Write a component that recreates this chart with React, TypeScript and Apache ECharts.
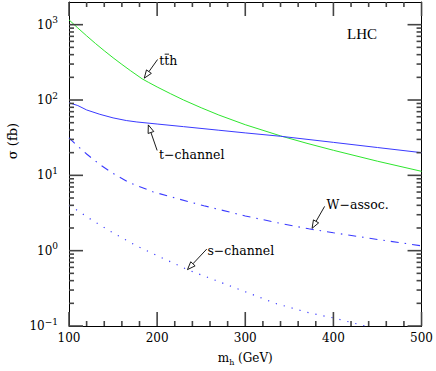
import React, { useEffect, useRef } from 'react';
import * as echarts from 'echarts';

// ---- data ----
const tthMass = [100, 110, 120, 130, 140, 150, 160, 170, 183, 190, 200, 215, 230, 250, 270, 300, 340, 370, 400, 450, 500];
const tthSigma = [1160, 904, 711, 563, 451, 364, 297, 244, 191, 172, 149, 121.6, 100, 78.9, 63.2, 47, 33.4, 26.6, 21.5, 15.4, 11.3];

const tChannelMass = [100, 110, 120, 135, 150, 165, 177, 200, 230, 270, 300, 340, 400, 450, 500];
const tChannelSigma = [92, 84.4, 73.8, 64.6, 57.9, 53.4, 51.1, 48, 44.3, 39.7, 36.6, 33, 27.4, 23.4, 20];

const wAssocMass = [100, 110, 120, 135, 150, 168, 195, 225, 253, 300, 340, 372, 400, 450, 500];
const wAssocSigma = [31.5, 24.3, 19.2, 13.9, 10.6, 8.06, 6.05, 4.83, 3.95, 2.89, 2.3, 1.95, 1.73, 1.41, 1.16];

const sChannelMass = [100, 110, 120, 135, 150, 176, 200, 236, 266, 300, 334, 370, 400, 436];
const sChannelSigma = [4.0, 3.4, 2.82, 2.2, 1.72, 1.17, 0.86, 0.55, 0.405, 0.285, 0.2, 0.152, 0.128, 0.1];

const xMin = 100;
const xMax = 500;
const xMajorStep = 100;
const xMinorStep = 20;
const yMin = 0.1;
const yMax = 2000;

// annotation labels with arrows (data coordinates); bar = [from, to] char range with an overline
const annotations = [
  { label: 'tth', bar: [1, 2], textAt: [202.5, 338], tail: [200.5, 345], tip: [185.4, 195] },
  { label: 't\u2212channel', bar: null, textAt: [202, 18.9], tail: [200, 21.4], tip: [190, 46.7] },
  { label: 'W\u2212assoc.', bar: null, textAt: [392.3, 4.16], tail: [390, 3.87], tip: [375.8, 1.98] },
  { label: 's\u2212channel', bar: null, textAt: [257, 1.0], tail: [256.3, 1.05], tip: [234.4, 0.56] },
];

const FONT = 'DejaVu Serif';
const ANN_SIZE = 12.5;

function zip(xs: number[], ys: number[]) {
  return xs.map((x, i) => [x, ys[i]]);
}

type Tick = { axis: 'x' | 'y'; v: number; major: boolean };

function buildTicks(): Tick[] {
  const out: Tick[] = [];
  for (let v = xMin; v <= xMax + 1e-9; v += xMinorStep) {
    out.push({ axis: 'x', v, major: Math.abs(v / xMajorStep - Math.round(v / xMajorStep)) < 1e-9 });
  }
  for (let e = Math.floor(Math.log10(yMin)); e <= Math.ceil(Math.log10(yMax)); e++) {
    for (let k = 1; k <= 9; k++) {
      const v = k * Math.pow(10, e);
      if (v >= yMin * 0.999 && v < yMax) out.push({ axis: 'y', v, major: k === 1 });
    }
  }
  return out;
}

function measure(text: string, size: number, family: string) {
  const c = document.createElement('canvas').getContext('2d');
  if (!c) return text.length * size * 0.5;
  c.font = `${size}px "${family}"`;
  return c.measureText(text).width;
}

export default function App() {
  const ref = useRef<HTMLDivElement>(null);
  useEffect(() => {
    if (!ref.current) return;
    const chart = echarts.init(ref.current, undefined, { renderer: 'svg' });
    const ticks = buildTicks();

    const yLabel = (v: number) => {
      const l = Math.log10(v);
      const e = Math.round(l);
      if (Math.abs(l - e) > 1e-6) return '';
      return `{b|10}{s|${e < 0 ? '\u2212' + -e : e}}`;
    };

    const mkAxisLine = () => ({ show: true, lineStyle: { color: '#000', width: 1 } });

    const option: any = {
      animation: false,
      backgroundColor: '#fff',
      title: {
        text: 'LHC',
        left: 347,
        top: 26,
        padding: 0,
        textStyle: { fontFamily: 'Liberation Serif', fontSize: 15, fontWeight: 'normal', color: '#000' },
      },
      graphic: [
        {
          type: 'text',
          x: 12,
          y: 141,
          rotation: Math.PI / 2,
          style: {
            text: '\u03c3 (fb)',
            fill: '#000',
            fontFamily: FONT,
            fontSize: 13,
            align: 'center',
            verticalAlign: 'middle',
          },
        },
      ],
      grid: { left: 69, right: 13, top: 2, bottom: 39, containLabel: false },
      xAxis: [
        {
          type: 'value',
          min: xMin,
          max: xMax,
          interval: xMajorStep,
          position: 'bottom',
          axisLine: mkAxisLine(),
          axisTick: { show: false },
          minorTick: { show: false },
          splitLine: { show: false },
          axisLabel: { show: true, color: '#000', fontFamily: FONT, fontSize: 12, margin: 6 },
          name: '{m|m}{sub|h}{n| (GeV)}',
          nameLocation: 'middle',
          nameGap: 24,
          nameTextStyle: {
            color: '#000',
            fontFamily: FONT,
            rich: {
              m: { fontFamily: FONT, fontSize: 12, lineHeight: 16, color: '#000' },
              sub: { fontFamily: FONT, fontSize: 8, lineHeight: 8, verticalAlign: 'bottom', color: '#000' },
              n: { fontFamily: FONT, fontSize: 12, lineHeight: 16, color: '#000' },
            },
          },
        },
        {
          type: 'value',
          min: xMin,
          max: xMax,
          interval: xMajorStep,
          position: 'top',
          axisLine: mkAxisLine(),
          axisTick: { show: false },
          splitLine: { show: false },
          axisLabel: { show: false },
        },
      ],
      yAxis: [
        {
          type: 'log',
          logBase: 10,
          min: yMin,
          max: yMax,
          position: 'left',
          axisLine: mkAxisLine(),
          axisTick: { show: false },
          splitLine: { show: false },
          axisLabel: {
            show: true,
            formatter: yLabel,
            margin: 11,
            color: '#000',
            rich: {
              b: { fontFamily: FONT, fontSize: 12, lineHeight: 18, color: '#000' },
              s: { fontFamily: FONT, fontSize: 9, lineHeight: 11, verticalAlign: 'top', color: '#000' },
            },
          },
        },
        {
          type: 'log',
          logBase: 10,
          min: yMin,
          max: yMax,
          position: 'right',
          axisLine: mkAxisLine(),
          axisTick: { show: false },
          splitLine: { show: false },
          axisLabel: { show: false },
        },
      ],
      series: [
        {
          name: 'tth',
          type: 'line',
          data: zip(tthMass, tthSigma),
          showSymbol: false,
          symbol: 'none',
          lineStyle: { color: '#2ee62e', width: 1 },
          silent: true,
        },
        {
          name: 't-channel',
          type: 'line',
          data: zip(tChannelMass, tChannelSigma),
          showSymbol: false,
          symbol: 'none',
          lineStyle: { color: '#3a3aff', width: 1 },
          silent: true,
        },
        {
          name: 'W-assoc',
          type: 'line',
          data: zip(wAssocMass, wAssocSigma),
          showSymbol: false,
          symbol: 'none',
          lineStyle: { color: '#3a3aff', width: 1.1, type: [8, 6, 1.5, 6] },
          silent: true,
        },
        {
          name: 's-channel',
          type: 'line',
          data: zip(sChannelMass, sChannelSigma),
          showSymbol: false,
          symbol: 'none',
          lineStyle: { color: '#3a3aff', width: 1.2, type: [1.2, 7] },
          silent: true,
        },
        {
          name: 'ticks',
          type: 'custom',
          silent: true,
          clip: false,
          z: 10,
          data: ticks.map((t) => (t.axis === 'x' ? [t.v, 1] : [300, t.v])),
          renderItem: (params: any, api: any) => {
            const t = ticks[params.dataIndex];
            const len = t.major ? 14 : 5;
            const style = { stroke: '#444', lineWidth: 1.6 };
            if (t.axis === 'x') {
              const b = api.coord([t.v, yMin]);
              const tp = api.coord([t.v, yMax]);
              return {
                type: 'group',
                children: [
                  { type: 'line', shape: { x1: b[0], y1: b[1], x2: b[0], y2: b[1] - len }, style },
                  { type: 'line', shape: { x1: tp[0], y1: tp[1], x2: tp[0], y2: tp[1] + len }, style },
                ],
              };
            }
            const l = api.coord([xMin, t.v]);
            const r = api.coord([xMax, t.v]);
            return {
              type: 'group',
              children: [
                { type: 'line', shape: { x1: l[0], y1: l[1], x2: l[0] + len, y2: l[1] }, style },
                { type: 'line', shape: { x1: r[0] - len, y1: r[1], x2: r[0], y2: r[1] }, style },
              ],
            };
          },
        },
        {
          name: 'annotations',
          type: 'custom',
          silent: true,
          clip: false,
          z: 11,
          data: annotations.map((a) => a.tip),
          renderItem: (params: any, api: any) => {
            const a = annotations[params.dataIndex];
            const tip = api.coord(a.tip);
            const tail = api.coord(a.tail);
            const tp = api.coord(a.textAt);
            const dx = tip[0] - tail[0];
            const dy = tip[1] - tail[1];
            const len = Math.sqrt(dx * dx + dy * dy) || 1;
            const ux = dx / len;
            const uy = dy / len;
            const hl = 8;
            const hw = 3;
            const bx = tip[0] - ux * hl;
            const by = tip[1] - uy * hl;
            const px = -uy;
            const py = ux;
            const children: any[] = [
              { type: 'line', shape: { x1: tail[0], y1: tail[1], x2: bx, y2: by }, style: { stroke: '#000', lineWidth: 0.9 } },
              {
                type: 'polygon',
                shape: { points: [[tip[0], tip[1]], [bx + px * hw, by + py * hw], [bx - px * hw, by - py * hw]] },
                style: { fill: '#fff', stroke: '#000', lineWidth: 0.9 },
              },
              {
                type: 'text',
                style: {
                  text: a.label,
                  x: tp[0],
                  y: tp[1],
                  fill: '#000',
                  fontFamily: FONT,
                  fontSize: ANN_SIZE,
                  align: 'left',
                  verticalAlign: 'middle',
                },
              },
            ];
            if (a.bar) {
              const x1 = tp[0] + measure(a.label.slice(0, a.bar[0]), ANN_SIZE, FONT);
              const x2 = tp[0] + measure(a.label.slice(0, a.bar[1]), ANN_SIZE, FONT);
              const yb = tp[1] - 6;
              children.push({
                type: 'line',
                shape: { x1: x1 + 0.3, y1: yb, x2: x2 - 0.3, y2: yb },
                style: { stroke: '#000', lineWidth: 0.9 },
              });
            }
            return { type: 'group', children };
          },
        },
      ],
    };
    chart.setOption(option);
    return () => chart.dispose();
  }, []);
  return <div ref={ref} style={{ position: 'absolute', left: 0, top: 0, width: 436, height: 371 }} />;
}
